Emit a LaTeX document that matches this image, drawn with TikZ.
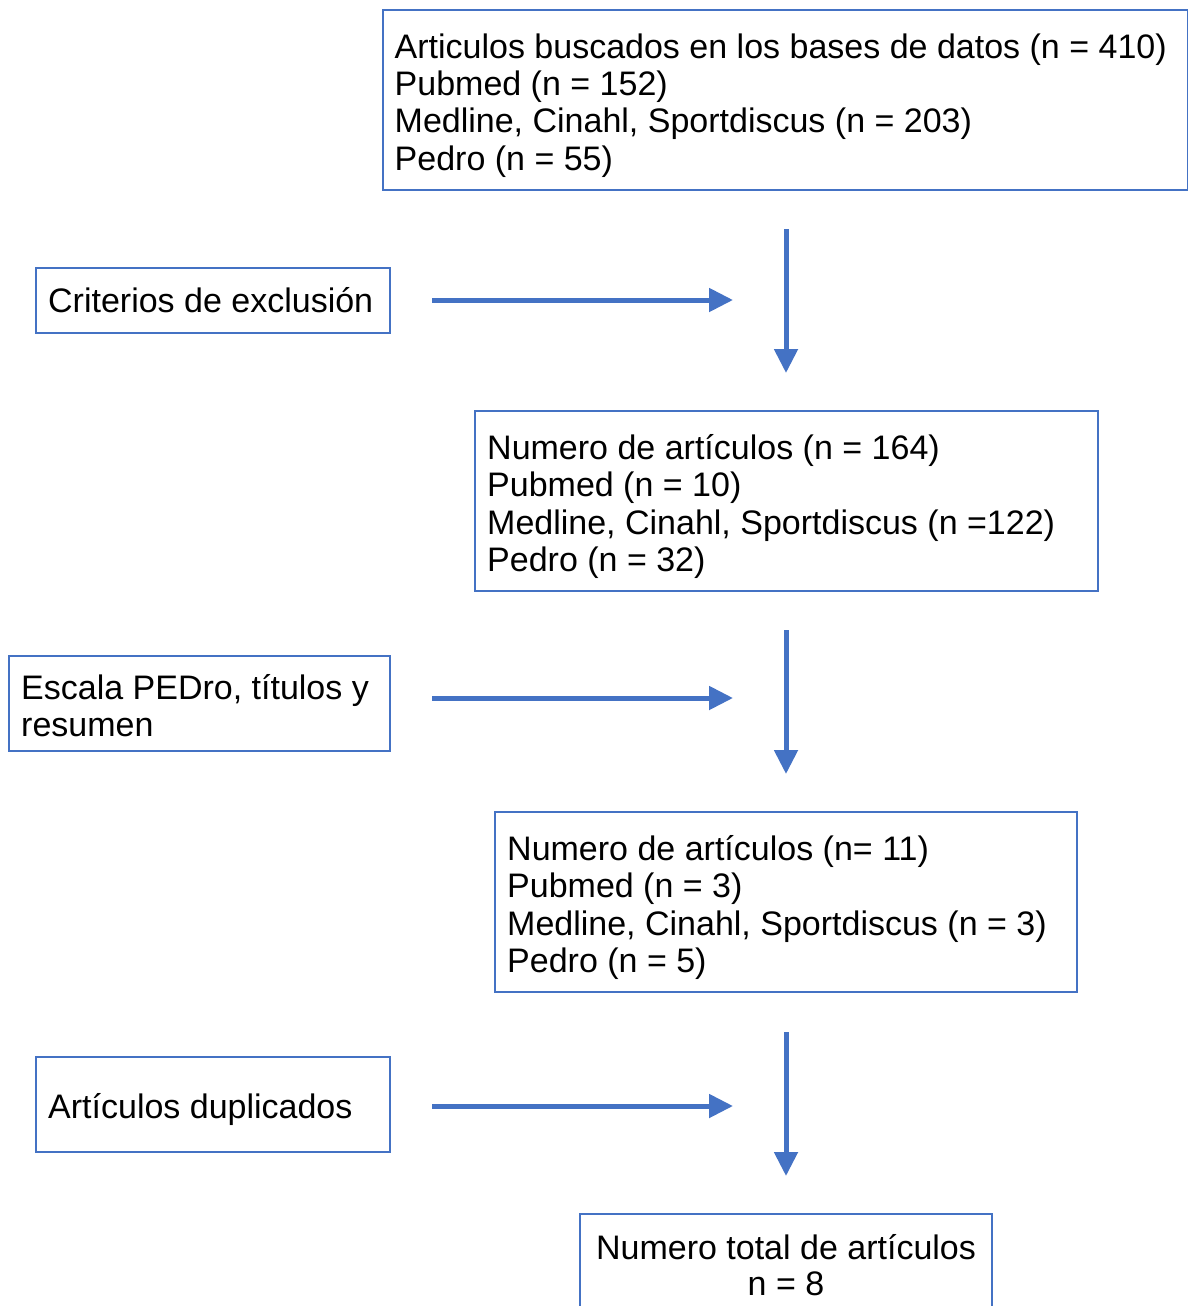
\documentclass[tikz,border=0pt]{standalone}
\usepackage{fontspec}
\setmainfont{Liberation Sans}
\usetikzlibrary{arrows.meta}
\definecolor{boxblue}{HTML}{4472C4}
\tikzset{
  flowbox/.style={draw=boxblue, line width=2.5pt, anchor=north west, outer sep=0pt, inner sep=0pt},
  boxtext/.style={anchor=west, inner sep=0pt, align=left, font=\fontsize{34pt}{37.4pt}\selectfont},
  flowarr/.style={draw=boxblue, line width=5pt, -{Triangle[length=24pt,width=23pt]}}
}
\begin{document}
\begin{tikzpicture}[x=1pt,y=-1pt]
\useasboundingbox (0,0) rectangle (1188,1306);
\clip (0,0) rectangle (1188,1306);
\node[flowbox, minimum width=805pt, minimum height=180pt] (top) at (383,10) {};
\node[boxtext] (toptext) at ([xshift=11.5pt,yshift=-5.5pt]top.west)
 {Articulos buscados en los bases de datos (n = 410)\\Pubmed (n = 152)\\Medline, Cinahl, Sportdiscus (n = 203)\\Pedro (n = 55)};
\node[flowbox, minimum width=354pt, minimum height=65pt] (crit) at (36,268) {};
\node[boxtext] (crittext) at ([xshift=12pt]crit.west) {Criterios de exclusión};
\node[flowbox, minimum width=623pt, minimum height=180pt] (b2) at (475,411) {};
\node[boxtext] (b2text) at ([xshift=12pt,yshift=-5.5pt]b2.west)
 {Numero de artículos (n = 164)\\Pubmed (n = 10)\\Medline, Cinahl, Sportdiscus (n =122)\\Pedro (n = 32)};
\node[flowbox, minimum width=381pt, minimum height=95pt] (esc) at (9,656) {};
\node[boxtext] (esctext) at ([xshift=12pt,yshift=-2pt]esc.west) {Escala PEDro, títulos y\\resumen};
\node[flowbox, minimum width=582pt, minimum height=180pt] (b3) at (495,812) {};
\node[boxtext] (b3text) at ([xshift=12pt,yshift=-5.5pt]b3.west)
 {Numero de artículos (n= 11)\\Pubmed (n = 3)\\Medline, Cinahl, Sportdiscus (n = 3)\\Pedro (n = 5)};
\node[flowbox, minimum width=354pt, minimum height=95pt] (dup) at (36,1057) {};
\node[boxtext] (duptext) at ([xshift=12pt,yshift=-5pt]dup.west) {Artículos duplicados};
\node[flowbox, minimum width=412pt, minimum height=104pt] (fin) at (580,1214) {};
\node[boxtext, anchor=center, align=center, font=\fontsize{34pt}{36pt}\selectfont] (fintext) at ([yshift=1pt]fin.center)
 {Numero total de artículos\\n = 8};
\coordinate (h1s) at (432,300); \coordinate (h1e) at (733,300);
\coordinate (v1s) at (786,229); \coordinate (v1e) at (786,373);
\coordinate (h2s) at (432,698); \coordinate (h2e) at (733,698);
\coordinate (v2s) at (786,630); \coordinate (v2e) at (786,774);
\coordinate (h3s) at (432,1106); \coordinate (h3e) at (733,1106);
\coordinate (v3s) at (786,1032); \coordinate (v3e) at (786,1176);
\draw[flowarr] (h1s) -- (h1e);
\draw[flowarr] (v1s) -- (v1e);
\draw[flowarr] (h2s) -- (h2e);
\draw[flowarr] (v2s) -- (v2e);
\draw[flowarr] (h3s) -- (h3e);
\draw[flowarr] (v3s) -- (v3e);
\end{tikzpicture}
\end{document}
